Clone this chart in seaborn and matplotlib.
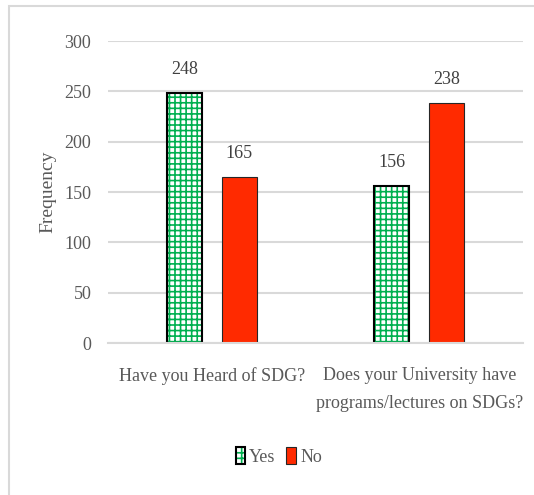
import matplotlib
matplotlib.use("Agg")
import matplotlib.pyplot as plt
from matplotlib.patches import Rectangle, Patch
from matplotlib.legend_handler import HandlerTuple
import seaborn as sns
import pandas as pd

# ---- data ----
questions = ["Have you Heard of SDG?", "Does your University have\nprograms/lectures on SDGs?"]
responses = ["Yes", "No"]
yes_counts = [248, 156]
no_counts = [165, 238]
y_ticks = [0, 50, 100, 150, 200, 250, 300]

df = pd.DataFrame({
    "question": questions * 2,
    "response": [responses[0]] * len(questions) + [responses[1]] * len(questions),
    "count": yes_counts + no_counts,
})

GREEN = "#00B050"
RED = "#FF2A00"
GRAY_TXT = "#595959"
GRID = "#D9D9D9"

sns.set_style("white")
plt.rcParams["font.family"] = ["Liberation Serif", "DejaVu Serif"]
plt.rcParams["hatch.linewidth"] = 1.2

fig = plt.figure(figsize=(5.34, 4.95), dpi=100)
ax = fig.add_axes([0.2022, 0.307, 0.7772, 0.610])

sns.barplot(data=df, x="question", y="count", hue="response", hue_order=responses,
            palette={"Yes": "white", "No": RED}, width=0.53, gap=0.36,
            saturation=1, errorbar=None, legend=False, ax=ax)

yes_c, no_c = ax.containers[0], ax.containers[1]
for p in yes_c.patches:
    p.set_facecolor("white")
    p.set_edgecolor(GREEN)
    p.set_hatch("+++")
    p.set_linewidth(0)
    ax.add_patch(Rectangle((p.get_x(), p.get_y()), p.get_width(), p.get_height(),
                           fill=False, edgecolor="black", lw=1.5, zorder=p.get_zorder() + 0.1))
for p in no_c.patches:
    p.set_edgecolor("#262626")
    p.set_linewidth(0.8)

for c in (yes_c, no_c):
    ax.bar_label(c, padding=11, fontsize=13, color="#404040")

ax.set_ylim(0, 300)
ax.set_yticks(y_ticks)
ax.yaxis.grid(True, color=GRID, lw=1.5)
ax.set_axisbelow(True)
for s in ["top", "right", "left"]:
    ax.spines[s].set_visible(False)
ax.spines["bottom"].set_color(GRID)
ax.spines["bottom"].set_linewidth(1.5)

ax.tick_params(axis="both", length=0, labelsize=13, labelcolor=GRAY_TXT)
ax.tick_params(axis="x", pad=17)
ax.tick_params(axis="y", pad=12)
for lbl in ax.get_xticklabels():
    lbl.set_linespacing(1.85)

ax.set_xlabel("")
ax.set_ylabel("Frequency", fontsize=14, color=GRAY_TXT)
ax.yaxis.set_label_coords(-0.145, 0.5)
ax.yaxis.label.set_va("center")

yes_handle = (Patch(facecolor="white", edgecolor=GREEN, hatch="+++", lw=0),
              Patch(fill=False, edgecolor="black", lw=1.5))
no_handle = Patch(facecolor=RED, edgecolor="#262626", lw=0.8)
leg = fig.legend(handles=[yes_handle, no_handle], labels=responses, loc="center",
                 bbox_to_anchor=(0.522, 0.078), ncol=2, frameon=False,
                 handlelength=0.5, handleheight=1.1, handletextpad=0.25,
                 columnspacing=0.6, fontsize=13,
                 handler_map={tuple: HandlerTuple(ndivide=1)})
for t in leg.get_texts():
    t.set_color(GRAY_TXT)

# light gray frame around the chart area (cropped on right/bottom)
fig.patches.append(Rectangle((8.5 / 534, -0.1), 1.2, 1 - 6.5 / 495 + 0.1,
                             transform=fig.transFigure, fill=False,
                             edgecolor=GRID, lw=1.5))

fig.savefig("out.png", dpi=100)
